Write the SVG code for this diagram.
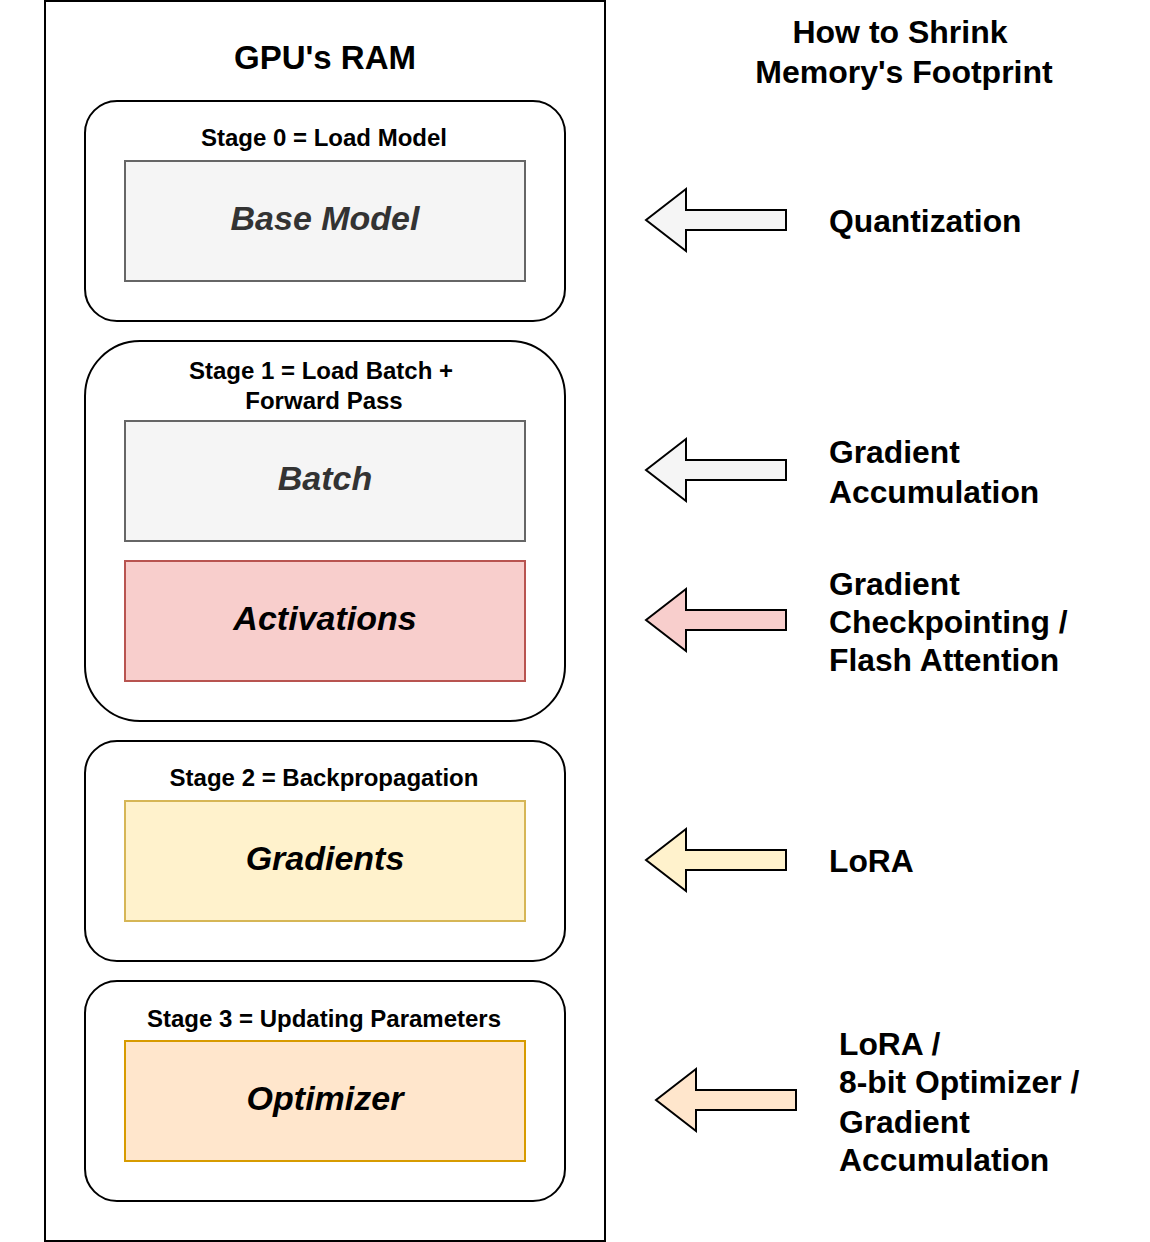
<svg xmlns="http://www.w3.org/2000/svg" width="1150" height="1242" viewBox="0 0 1150 1242">
<defs>
<style>
text{font-family:"Liberation Sans",Arial,sans-serif;font-weight:bold;fill:#000}
.stage{fill:#fff;stroke:#000;stroke-width:2}
.st{font-size:24px;text-anchor:middle}
.in{font-size:34px;font-style:italic;text-anchor:middle}
.rl{font-size:31.8px}
.arr{stroke:#000;stroke-width:2}
.gray{fill:#f5f5f5;stroke:#666}
.red{fill:#f8cecc;stroke:#b85450}
.yel{fill:#fff2cc;stroke:#d6b656}
.org{fill:#ffe6cc;stroke:#d79b00}
</style>
<path id="arrow" d="M0,0 L40,-31 L40,-10 L140,-10 L140,10 L40,10 L40,31 Z"/>
</defs>
<rect width="1150" height="1242" fill="#fff"/>
<g id="gpu-ram">
<rect x="45" y="1" width="560" height="1240" fill="#fff" stroke="#000" stroke-width="2"/>
<text x="325" y="69" style="font-size:33px" text-anchor="middle">GPU's RAM</text>
</g>
<g id="title">
<text x="900" y="43" style="font-size:32px" text-anchor="middle">How to Shrink</text>
<text x="904" y="83" style="font-size:32px" text-anchor="middle">Memory's Footprint</text>
</g>
<g id="stage0">
<rect class="stage" x="85" y="101" width="480" height="220" rx="32"/>
<text class="st" x="324" y="146">Stage 0 = Load Model</text>
</g>
<g id="base-model">
<rect class="gray" x="125" y="161" width="400" height="120" stroke-width="2"/>
<text class="in" x="325" y="230" style="fill:#333">Base Model</text>
</g>
<g id="stage1">
<rect class="stage" x="85" y="341" width="480" height="380" rx="55"/>
<text class="st" x="321" y="379">Stage 1 = Load Batch +</text>
<text class="st" x="324" y="409">Forward Pass</text>
</g>
<g id="batch">
<rect class="gray" x="125" y="421" width="400" height="120" stroke-width="2"/>
<text class="in" x="325" y="490" style="fill:#333">Batch</text>
</g>
<g id="activations">
<rect class="red" x="125" y="561" width="400" height="120" stroke-width="2"/>
<text class="in" x="325" y="630">Activations</text>
</g>
<g id="stage2">
<rect class="stage" x="85" y="741" width="480" height="220" rx="32"/>
<text class="st" x="324" y="786">Stage 2 = Backpropagation</text>
</g>
<g id="gradients">
<rect class="yel" x="125" y="801" width="400" height="120" stroke-width="2"/>
<text class="in" x="325" y="870">Gradients</text>
</g>
<g id="stage3">
<rect class="stage" x="85" y="981" width="480" height="220" rx="32"/>
<text class="st" x="324" y="1027">Stage 3 = Updating Parameters</text>
</g>
<g id="optimizer">
<rect class="org" x="125" y="1041" width="400" height="120" stroke-width="2"/>
<text class="in" x="325" y="1110">Optimizer</text>
</g>
<g id="connectors">
<use href="#arrow" x="646" y="220" class="arr" fill="#f5f5f5"/>
<use href="#arrow" x="646" y="470" class="arr" fill="#f5f5f5"/>
<use href="#arrow" x="646" y="620" class="arr" fill="#f8cecc"/>
<use href="#arrow" x="646" y="860" class="arr" fill="#fff2cc"/>
<use href="#arrow" x="656" y="1100" class="arr" fill="#ffe6cc"/>
</g>
<g id="label-quantization">
<text class="rl" x="829" y="232">Quantization</text>
</g>
<g id="label-grad-accum">
<text class="rl" x="829" y="463">Gradient</text>
<text class="rl" x="829" y="503">Accumulation</text>
</g>
<g id="label-checkpointing">
<text class="rl" x="829" y="595">Gradient</text>
<text class="rl" x="829" y="633">Checkpointing /</text>
<text class="rl" x="829" y="671">Flash Attention</text>
</g>
<g id="label-lora">
<text class="rl" x="829" y="872">LoRA</text>
</g>
<g id="label-optimizer">
<text class="rl" x="839" y="1055">LoRA /</text>
<text class="rl" x="839" y="1093">8-bit Optimizer /</text>
<text class="rl" x="839" y="1133">Gradient</text>
<text class="rl" x="839" y="1171">Accumulation</text>
</g>
</svg>
